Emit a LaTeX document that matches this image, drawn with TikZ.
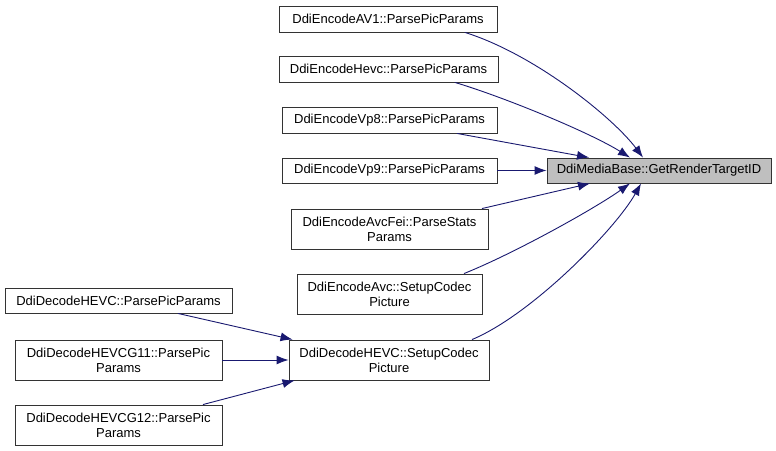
\documentclass[tikz,border=0pt]{standalone}
\usepackage{fontspec}
\setmainfont{Liberation Sans}
\usetikzlibrary{arrows.meta}
\definecolor{edgec}{HTML}{191970}
\definecolor{targetfill}{HTML}{BFBFBF}
\begin{document}
\begin{tikzpicture}[x=1bp,y=-1bp,
  box/.style={draw=black!80,line width=0.9bp,fill=white,inner sep=0pt,align=center,
    font=\fontsize{13bp}{15bp}\selectfont},
  edge/.style={draw=edgec,line width=0.9bp,-{Latex[length=12bp,width=9bp]}}]
\useasboundingbox[fill=white] (0,0) rectangle (776,451);
\node[box,minimum width=218bp,minimum height=26bp] (av1) at (388,19) {DdiEncodeAV1::ParsePicParams};
\node[box,minimum width=219bp,minimum height=26bp] (hevc) at (388.5,69) {DdiEncodeHevc::ParsePicParams};
\node[box,minimum width=215bp,minimum height=26bp] (vp8) at (389.5,120) {DdiEncodeVp8::ParsePicParams};
\node[box,minimum width=215bp,minimum height=25bp] (vp9) at (389.5,170.5) {DdiEncodeVp9::ParsePicParams};
\node[box,minimum width=197bp,minimum height=40bp] (fei) at (389.5,229) {DdiEncodeAvcFei::ParseStats\\Params};
\node[box,minimum width=185bp,minimum height=40bp] (avc) at (389.5,294) {DdiEncodeAvc::SetupCodec\\Picture};
\node[box,minimum width=200bp,minimum height=40bp] (dsetup) at (389,360) {DdiDecodeHEVC::SetupCodec\\Picture};
\node[box,fill=targetfill,minimum width=224bp,minimum height=25bp] (target) at (659,170.5) {DdiMediaBase::GetRenderTargetID};
\node[box,minimum width=227bp,minimum height=25bp] (dparse) at (118.5,300.5) {DdiDecodeHEVC::ParsePicParams};
\node[box,minimum width=207bp,minimum height=40bp] (g11) at (118.5,360) {DdiDecodeHEVCG11::ParsePic\\Params};
\node[box,minimum width=207bp,minimum height=40bp] (g12) at (118.5,425) {DdiDecodeHEVCG12::ParsePic\\Params};

\draw[edge] ([xshift=77bp]av1.south) .. controls +(70,22) and +(-30,-40) .. ([xshift=-16bp]target.north);
\draw[edge] ([xshift=66.5bp]hevc.south) .. controls +(50,15) and +(-40,-25) .. ([xshift=-29bp]target.north);
\draw[edge] ([xshift=67.5bp]vp8.south) -- ([xshift=-70bp]target.north);
\draw[edge] (vp9.east) -- (target.west);
\draw[edge] ([xshift=92.5bp]fei.north) -- ([xshift=-69bp]target.south);
\draw[edge] ([xshift=74.5bp]avc.north) .. controls +(50,-20) and +(-35,25) .. ([xshift=-29bp]target.south);
\draw[edge] ([xshift=83bp]dsetup.north) .. controls +(60,-25) and +(-25,45) .. ([xshift=-18bp]target.south);
\draw[edge] ([xshift=59.5bp]dparse.south) -- ([xshift=4bp]dsetup.north west);
\draw[edge] (g11.east) -- (dsetup.west);
\draw[edge] ([xshift=84.5bp]g12.north) -- ([xshift=6bp]dsetup.south west);
\end{tikzpicture}
\end{document}
